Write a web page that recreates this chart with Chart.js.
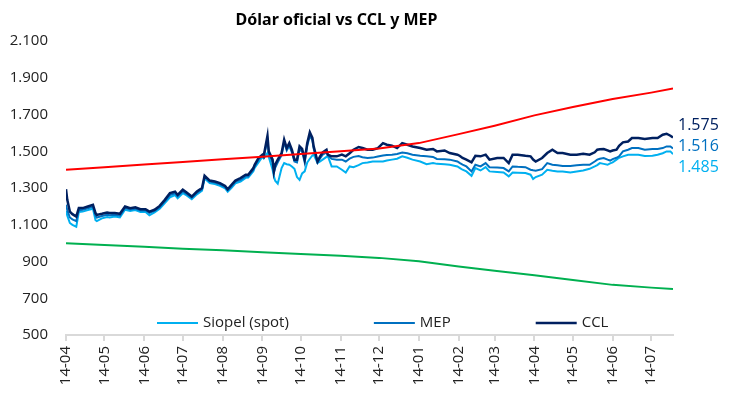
<!DOCTYPE html>
<html><head><meta charset="utf-8">
<script src="https://cdn.jsdelivr.net/npm/chart.js@4.4.1/dist/chart.umd.min.js"></script>
<style>html,body{margin:0;padding:0;background:#fff;}#wrap{width:752px;height:414px;}</style>
</head><body><div id="wrap"><canvas id="c" width="752" height="414"></canvas></div>
<script>
// Tick positions (days since 14-04) and labels
const monthDays = [0,30,61,91,122,153,183,214,244,275,306,334,365,395,426,456];
const monthLabels = ['14-04','14-05','14-06','14-07','14-08','14-09','14-10','14-11','14-12','14-01','14-02','14-03','14-04','14-05','14-06','14-07'];

// Sample days for market series
const days = [
 0,1,3,5,8,10,13,17,21,23,
 24,28,32,34,38,42,46,50,54,58,
 62,65,69,73,77,81,85,87,91,94,
 98,102,106,108,112,116,120,124,126,129,
 132,136,140,142,146,147,150,153,154,157,
 158,161,162,163,165,168,170,172,174,176,
 178,180,182,184,186,188,190,192,193,196,
 198,200,203,204,207,211,215,218,221,224,
 228,231,235,239,243,247,250,254,258,262,
 266,270,276,281,286,289,295,299,305,307,
 309,312,316,319,323,327,330,336,341,345,
 348,352,358,362,364,366,371,375,379,383,
 387,393,398,403,408,412,414,416,419,422,
 424,426,429,431,434,438,441,446,451,457,
 461,465,468,471,473];

const ccl = [
 1294,1236,1172,1158,1145,1191,1191,1200,1209,1164,
 1154,1160,1167,1164,1164,1160,1200,1191,1195,1185,
 1185,1172,1182,1203,1236,1273,1281,1263,1291,1276,
 1254,1281,1300,1367,1341,1336,1327,1312,1294,1318,
 1341,1355,1373,1373,1409,1427,1464,1482,1473,1585,
 1500,1455,1391,1427,1455,1491,1564,1518,1545,1509,
 1455,1455,1527,1513,1455,1545,1604,1573,1527,1445,
 1473,1494,1509,1482,1473,1473,1482,1473,1490,1509,
 1524,1518,1509,1509,1518,1545,1536,1531,1518,1545,
 1536,1527,1518,1509,1513,1500,1505,1491,1482,1475,
 1464,1455,1440,1476,1473,1482,1455,1464,1464,1436,
 1482,1482,1476,1473,1455,1445,1464,1491,1509,1491,
 1491,1482,1482,1487,1482,1495,1509,1512,1513,1505,
 1500,1505,1509,1530,1549,1554,1573,1573,1567,1573,
 1573,1591,1596,1585,1575];

const mep = [
 1210,1180,1140,1130,1120,1180,1182,1190,1198,1150,
 1140,1148,1155,1152,1155,1150,1192,1183,1188,1178,
 1178,1165,1176,1196,1228,1262,1272,1255,1282,1268,
 1248,1274,1294,1360,1335,1330,1320,1305,1288,1310,
 1335,1345,1365,1365,1400,1418,1455,1475,1468,1560,
 1490,1440,1385,1410,1440,1480,1550,1505,1530,1495,
 1445,1440,1510,1500,1440,1530,1585,1560,1515,1440,
 1462,1482,1495,1478,1459,1455,1455,1445,1460,1470,
 1475,1468,1464,1466,1472,1478,1480,1482,1486,1494,
 1490,1482,1476,1473,1470,1459,1457,1455,1445,1436,
 1428,1418,1391,1427,1418,1436,1414,1412,1409,1391,
 1418,1416,1414,1400,1397,1395,1403,1436,1427,1425,
 1421,1421,1425,1427,1427,1445,1455,1460,1464,1455,
 1450,1458,1465,1473,1500,1509,1518,1518,1509,1513,
 1513,1518,1527,1527,1516];

const siopel = [
 1175,1150,1110,1100,1090,1170,1172,1180,1188,1125,
 1120,1135,1142,1140,1145,1140,1182,1175,1180,1170,
 1170,1152,1168,1188,1218,1250,1262,1245,1272,1260,
 1240,1266,1286,1352,1328,1322,1312,1298,1280,1302,
 1326,1336,1356,1358,1392,1410,1440,1470,1462,1491,
 1470,1400,1364,1340,1324,1409,1436,1430,1427,1418,
 1405,1360,1345,1380,1391,1440,1460,1478,1482,1436,
 1445,1455,1470,1475,1418,1418,1400,1385,1418,1414,
 1425,1436,1440,1445,1445,1445,1450,1455,1460,1473,
 1465,1455,1445,1430,1436,1432,1430,1427,1418,1409,
 1400,1391,1367,1409,1396,1414,1391,1388,1385,1364,
 1385,1384,1382,1373,1349,1360,1373,1400,1395,1391,
 1391,1385,1391,1396,1405,1418,1425,1436,1432,1427,
 1435,1440,1455,1465,1473,1482,1482,1482,1475,1476,
 1482,1490,1500,1500,1485];

// Band lines (monthly readings)
const bandDays = [0,30,61,91,122,153,183,214,244,275,306,334,365,395,426,456,473];
const bandUpper = [1400,1414,1428,1442,1457,1471,1486,1501,1516,1545,1594,1640,1696,1742,1785,1820,1842];
const bandLower = [1000,990,980,970,961,951,941,932,920,902,873,850,826,800,773,758,750];

const FONT = '"Open Sans", "Noto Sans", sans-serif';
const fmt = v => String(Math.round(v)).replace(/\B(?=(\d{3})+(?!\d))/g, '.');
const pts = (xs, ys) => xs.map((x, i) => ({x: x, y: ys[i]}));

const endLabels = {
  id: 'endLabels',
  afterDatasetsDraw(chart) {
    const ctx = chart.ctx;
    const items = [];
    chart.data.datasets.forEach((ds, i) => {
      if (!ds.endLabel) return;
      const meta = chart.getDatasetMeta(i);
      const el = meta.data[meta.data.length - 1];
      items.push({y: el.y, text: fmt(ds.data[ds.data.length - 1].y), color: ds.borderColor});
    });
    items.sort((a, b) => a.y - b.y);
    const gap = 21;
    const mean = items.reduce((s, a) => s + a.y, 0) / items.length;
    const start = mean - gap * (items.length - 1) / 2;
    ctx.save();
    ctx.font = '16px ' + FONT;
    ctx.textAlign = 'left';
    ctx.textBaseline = 'middle';
    items.forEach((it, k) => {
      ctx.fillStyle = it.color;
      ctx.fillText(it.text, chart.chartArea.right + 5, start + gap * k);
    });
    ctx.restore();
  }
};

const legendOrder = ['Siopel (spot)', 'MEP', 'CCL'];
const insideLegend = {
  id: 'insideLegend',
  afterDraw(chart) {
    const ctx = chart.ctx;
    const area = chart.chartArea;
    ctx.save();
    ctx.font = '15px ' + FONT;
    ctx.textBaseline = 'middle';
    const y = area.bottom - 12;
    let x = area.left + 91;
    legendOrder.forEach(name => {
      const ds = chart.data.datasets.find(d => d.label === name);
      ctx.strokeStyle = ds.borderColor;
      ctx.lineWidth = ds.borderWidth;
      ctx.beginPath();
      ctx.moveTo(x, y);
      ctx.lineTo(x + 41, y);
      ctx.stroke();
      ctx.fillStyle = '#222';
      ctx.fillText(name, x + 46, y);
      x += 46 + ctx.measureText(name).width + 85;
    });
    ctx.restore();
  }
};

new Chart(document.getElementById('c'), {
  type: 'line',
  data: {
    datasets: [
      {label: 'Banda superior', data: pts(bandDays, bandUpper), borderColor: '#FF0000', borderWidth: 2},
      {label: 'Banda inferior', data: pts(bandDays, bandLower), borderColor: '#00B050', borderWidth: 2},
      {label: 'CCL', data: pts(days, ccl), borderColor: '#002060', borderWidth: 2.5, endLabel: true},
      {label: 'MEP', data: pts(days, mep), borderColor: '#0070C0', borderWidth: 2, endLabel: true},
      {label: 'Siopel (spot)', data: pts(days, siopel), borderColor: '#00B0F0', borderWidth: 2, endLabel: true}
    ]
  },
  options: {
    responsive: false,
    animation: false,
    layout: {padding: {left: 0, right: 79, top: 0, bottom: 0}},
    elements: {point: {radius: 0}, line: {tension: 0, fill: false}},
    plugins: {
      legend: {display: false},
      tooltip: {enabled: false},
      title: {
        display: true, text: 'Dólar oficial vs CCL y MEP', color: '#000',
        font: {family: '"Noto Sans", "Open Sans", sans-serif', size: 16, weight: 'bold'}, padding: {top: 11, bottom: 11}
      }
    },
    scales: {
      x: {
        type: 'linear', min: 0, max: 473,
        afterBuildTicks: s => { s.ticks = monthDays.map(v => ({value: v})); },
        afterFit: s => { s.height = 79; },
        grid: {drawOnChartArea: false, drawTicks: true, tickLength: 6, color: '#d9d9d9', lineWidth: 2},
        border: {display: true, color: '#d9d9d9', width: 2},
        ticks: {
          autoSkip: false, maxRotation: 90, minRotation: 90, padding: 5, color: '#222',
          font: {family: FONT, size: 15},
          callback: (v, i) => monthLabels[i]
        }
      },
      y: {
        min: 500, max: 2100,
        afterFit: s => { s.width = 66; },
        grid: {display: false, drawTicks: false},
        border: {display: false},
        ticks: {stepSize: 200, padding: 18, color: '#222', font: {family: FONT, size: 15}, callback: v => fmt(v)}
      }
    }
  },
  plugins: [endLabels, insideLegend]
});
</script>
</body></html>
